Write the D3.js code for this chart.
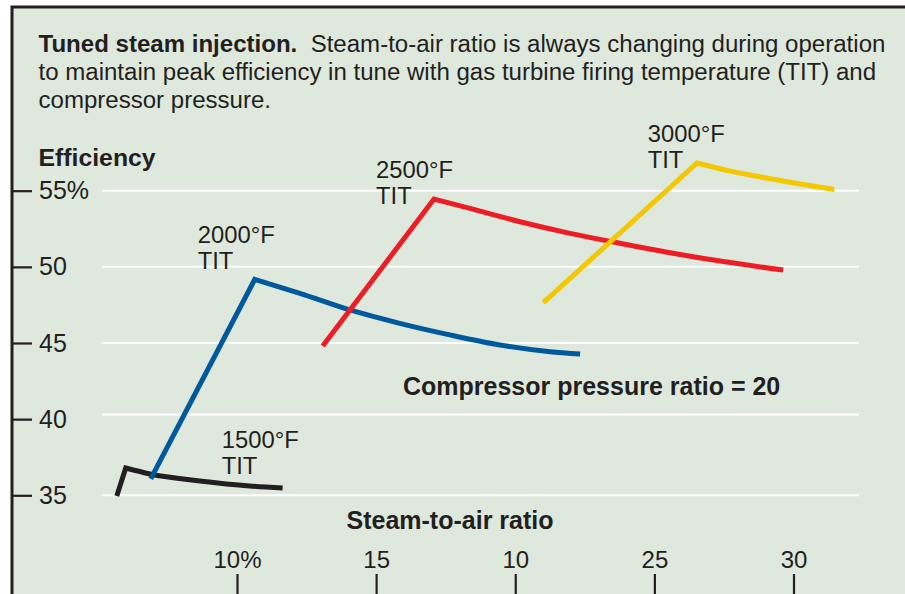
<!DOCTYPE html>
<html>
<head>
<meta charset="utf-8">
<script src="https://cdn.jsdelivr.net/npm/d3@7/dist/d3.min.js"></script>
<style>
body { margin: 0; background: #ffffff; }
text { font-family: "Liberation Sans", Arial, Helvetica, sans-serif; fill: #231f20; }
</style>
</head>
<body>
<div id="chart"></div>
<script>
var width = 905
var height = 594

// Data (steam-to-air ratio %, efficiency %)

var ratio1500 = [5.68, 6.0, 6.87, 8.67, 10.46, 11.64]
var eff1500 = [34.95, 36.79, 36.40, 35.94, 35.61, 35.48]

var ratio2000 = [6.90, 10.64, 12.26, 14.06, 15.85, 17.65, 19.45, 21.25, 22.33]
var eff2000 = [36.08, 49.18, 48.26, 47.17, 46.29, 45.53, 44.87, 44.43, 44.28]

var ratio2500 = [13.08, 17.08, 18.37, 20.17, 21.97, 23.76, 25.56, 27.36, 29.63]
var eff2500 = [44.80, 54.45, 53.84, 52.96, 52.20, 51.55, 50.93, 50.38, 49.79]

var ratio3000 = [21.01, 26.53, 27.82, 29.04, 30.23, 31.47]
var eff3000 = [47.65, 56.82, 56.25, 55.83, 55.44, 55.08]

var seriesNames = ["1500°F", "2000°F", "2500°F", "3000°F"]
var seriesColors = ["#231f20", "#00599d", "#ee1d25", "#f3c800"]

// Tick values and labels

var yTicks = [35, 40, 45, 50, 55]
var yTickLabels = ["35", "40", "45", "50", "55%"]
var gridValues = [35, 40.3, 45, 50, 55]
var xTicks = [10, 15, 20, 25, 30]
var xTickLabels = ["10%", "15", "10", "25", "30"]
var gridFrom = 5.15
var gridTo = 32.35

var series = [
    {name: seriesNames[0], color: seriesColors[0], x: ratio1500, y: eff1500},
    {name: seriesNames[1], color: seriesColors[1], x: ratio2000, y: eff2000},
    {name: seriesNames[2], color: seriesColors[2], x: ratio2500, y: eff2500},
    {name: seriesNames[3], color: seriesColors[3], x: ratio3000, y: eff3000}
]

// Scales

var x_scale = d3.scaleLinear()
    .domain([10, 30])
    .range([237, 793.5]);

var y_scale = d3.scaleLinear()
    .domain([35, 55])
    .range([495.3, 190.7]);

var svg = d3.select("#chart")
    .append("svg")
    .attr("width", width)
    .attr("height", height)
    .style("display", "block")
    .style("background-color", "white")

// Panel background and border

svg.append("rect")
    .attr("x", 12)
    .attr("y", 7)
    .attr("width", width - 12)
    .attr("height", height - 7)
    .style("fill", "#dee8dd")

svg.append("path")
    .attr("d", "M12," + height + "V7H" + width)
    .style("fill", "none")
    .style("stroke", "#231f20")
    .style("stroke-width", 3)

// Gridlines

svg.append("g")
    .selectAll("line")
    .data(gridValues)
    .enter()
    .append("line")
    .attr("x1", x_scale(gridFrom))
    .attr("x2", x_scale(gridTo))
    .attr("y1", function(d){ return y_scale(d); })
    .attr("y2", function(d){ return y_scale(d); })
    .style("stroke", "#ffffff")
    .style("stroke-width", 2)

// Title text

var title = svg.append("g").attr("font-size", 24.05)

var t1 = title.append("text").attr("x", 38.5).attr("y", 52.3)
t1.append("tspan").attr("font-weight", "bold").text("Tuned steam injection.")
t1.append("tspan").attr("xml:space", "preserve").text("  Steam-to-air ratio is always changing during operation")
title.append("text").attr("x", 38.5).attr("y", 80.3)
    .text("to maintain peak efficiency in tune with gas turbine firing temperature (TIT) and")
title.append("text").attr("x", 38.5).attr("y", 108.3)
    .text("compressor pressure.")

svg.append("text")
    .attr("x", 38.5).attr("y", 165.7)
    .attr("font-size", 24.8)
    .attr("font-weight", "bold")
    .text("Efficiency")

svg.append("text")
    .attr("x", 403).attr("y", 395)
    .attr("font-size", 25)
    .attr("font-weight", "bold")
    .text("Compressor pressure ratio = 20")

svg.append("text")
    .attr("x", 346.5).attr("y", 529.3)
    .attr("font-size", 25)
    .attr("font-weight", "bold")
    .text("Steam-to-air ratio")

// Curve labels

var labelPos = [[221.7, 448.3], [197.7, 243.3], [376, 178], [647.7, 142.3]]

var labels = svg.append("g").attr("font-size", 23.8)
labels.selectAll("text")
    .data(series)
    .enter()
    .append("text")
    .attr("x", function(d, i){ return labelPos[i][0]; })
    .attr("y", function(d, i){ return labelPos[i][1]; })
    .each(function(d){
        var sel = d3.select(this)
        sel.append("tspan").text(d.name)
        sel.append("tspan").attr("x", sel.attr("x")).attr("dy", 26).text("TIT")
    })

// Axes

var yAxis = d3.axisRight(y_scale)
    .tickValues(yTicks)
    .tickFormat(function(d, i){ return yTickLabels[i]; })
    .tickSize(20)
    .tickPadding(7);

var gy = svg.append("g")
    .attr("class", "y axis")
    .attr("transform", "translate(12,0)")
    .call(yAxis);

var xAxis = d3.axisTop(x_scale)
    .tickValues(xTicks)
    .tickFormat(function(d, i){ return xTickLabels[i]; })
    .tickSize(20)
    .tickPadding(6);

var gx = svg.append("g")
    .attr("class", "x axis")
    .attr("transform", "translate(0," + height + ")")
    .call(xAxis);

[gy, gx].forEach(function(g){
    g.select(".domain").remove()
    g.attr("font-family", null)
    g.selectAll("line").style("stroke", "#231f20").style("stroke-width", 2.2)
    g.selectAll("text").style("fill", "#231f20")
})
gy.attr("font-size", 25)
gx.attr("font-size", 24)

// Lines: straight rise to the peak, smooth fall after it

var fall = d3.line()
    .x(function(d){ return x_scale(d[0]); })
    .y(function(d){ return y_scale(d[1]); })
    .curve(d3.curveMonotoneX);

svg.append("g")
    .selectAll("path")
    .data(series)
    .enter()
    .append("path")
    .attr("d", function(d){
        var pts = d.x.map(function(v, i){ return [v, d.y[i]]; })
        var tail = fall(pts.slice(1))
        return "M" + x_scale(pts[0][0]) + "," + y_scale(pts[0][1]) + "L" + tail.slice(1);
    })
    .style("fill", "none")
    .style("stroke", function(d){ return d.color; })
    .style("stroke-width", 5)
    .style("stroke-linejoin", "miter")
</script>
</body>
</html>
